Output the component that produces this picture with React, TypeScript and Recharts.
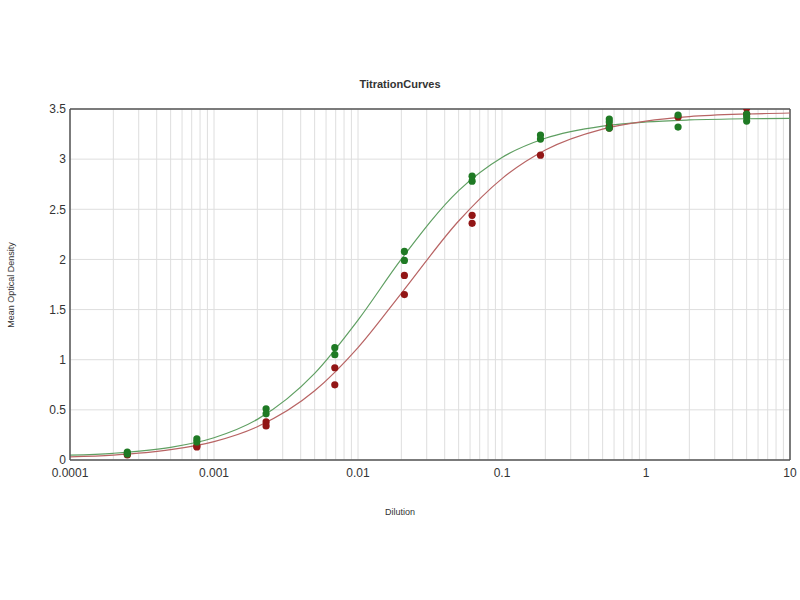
import React from "react";
import {
  ComposedChart,
  Line,
  Scatter,
  XAxis,
  YAxis,
  ZAxis,
  CartesianGrid,
  ReferenceLine,
} from "recharts";

const greenPoints = [
  { x: 0.00025, y: 0.08 }, { x: 0.00025, y: 0.06 },
  { x: 0.00076, y: 0.21 }, { x: 0.00076, y: 0.18 },
  { x: 0.0023, y: 0.51 }, { x: 0.0023, y: 0.46 },
  { x: 0.0069, y: 1.12 }, { x: 0.0069, y: 1.05 },
  { x: 0.021, y: 2.08 }, { x: 0.021, y: 1.99 },
  { x: 0.062, y: 2.83 }, { x: 0.062, y: 2.78 },
  { x: 0.185, y: 3.24 }, { x: 0.185, y: 3.2 },
  { x: 0.556, y: 3.4 }, { x: 0.556, y: 3.37 }, { x: 0.556, y: 3.31 },
  { x: 1.67, y: 3.44 }, { x: 1.67, y: 3.32 },
  { x: 5, y: 3.45 }, { x: 5, y: 3.42 }, { x: 5, y: 3.38 },
];

const redPoints = [
  { x: 0.00025, y: 0.05 }, { x: 0.00025, y: 0.06 },
  { x: 0.00076, y: 0.14 }, { x: 0.00076, y: 0.13 },
  { x: 0.0023, y: 0.38 }, { x: 0.0023, y: 0.34 },
  { x: 0.0069, y: 0.92 }, { x: 0.0069, y: 0.75 },
  { x: 0.021, y: 1.84 }, { x: 0.021, y: 1.65 },
  { x: 0.062, y: 2.44 }, { x: 0.062, y: 2.36 },
  { x: 0.185, y: 3.04 },
  { x: 0.556, y: 3.33 }, { x: 0.556, y: 3.31 },
  { x: 1.67, y: 3.42 },
  { x: 5, y: 3.51 }, { x: 5, y: 3.45 },
];

// fitted curves, sampled at 1-2-5 steps per decade
const greenCurve = [
  { x: 0.0001, y: 0.048 }, { x: 0.0002, y: 0.067 }, { x: 0.0005, y: 0.126 },
  { x: 0.001, y: 0.222 }, { x: 0.002, y: 0.405 }, { x: 0.005, y: 0.864 },
  { x: 0.01, y: 1.395 }, { x: 0.02, y: 2.003 }, { x: 0.05, y: 2.686 },
  { x: 0.1, y: 3.017 }, { x: 0.2, y: 3.208 }, { x: 0.5, y: 3.33 },
  { x: 1, y: 3.371 }, { x: 2, y: 3.391 }, { x: 5, y: 3.403 }, { x: 10, y: 3.406 },
];

const redCurve = [
  { x: 0.0001, y: 0.031 }, { x: 0.0002, y: 0.049 }, { x: 0.0005, y: 0.103 },
  { x: 0.001, y: 0.184 }, { x: 0.002, y: 0.332 }, { x: 0.005, y: 0.69 },
  { x: 0.01, y: 1.121 }, { x: 0.02, y: 1.662 }, { x: 0.05, y: 2.383 },
  { x: 0.1, y: 2.806 }, { x: 0.2, y: 3.091 }, { x: 0.5, y: 3.3 },
  { x: 1, y: 3.38 }, { x: 2, y: 3.424 }, { x: 5, y: 3.45 }, { x: 10, y: 3.46 },
];

const decadeTicks = [0.0001, 0.001, 0.01, 0.1, 1, 10];
const xTicks = [
  0.0001, 0.0002, 0.0003, 0.0004, 0.0005, 0.0006, 0.0007, 0.0008, 0.0009,
  0.001, 0.002, 0.003, 0.004, 0.005, 0.006, 0.007, 0.008, 0.009,
  0.01, 0.02, 0.03, 0.04, 0.05, 0.06, 0.07, 0.08, 0.09,
  0.1, 0.2, 0.3, 0.4, 0.5, 0.6, 0.7, 0.8, 0.9,
  1, 2, 3, 4, 5, 6, 7, 8, 9, 10,
];
const yTicks = [0, 0.5, 1, 1.5, 2, 2.5, 3, 3.5];

const GREEN_DOT = "#1f7a24";
const RED_DOT = "#921616";
const GREEN_LINE = "#5f9f62";
const RED_LINE = "#b86464";
const FRAME = "#555555";
const FONT = "'Liberation Sans', Arial, sans-serif";

const Dot = (color: string) => (props: any) => {
  const { cx, cy } = props;
  if (cx == null || cy == null) return null;
  return <circle cx={cx} cy={cy} r={3.6} fill={color} />;
};

export default function App() {
  return (
    <div
      style={{
        position: "absolute",
        left: 0,
        top: 0,
        width: 800,
        height: 600,
        background: "#fff",
        fontFamily: FONT,
      }}
    >
      <div
        style={{
          position: "absolute",
          top: 78,
          left: 0,
          width: 800,
          textAlign: "center",
          fontSize: 11,
          fontWeight: "bold",
          color: "#333",
        }}
      >
        TitrationCurves
      </div>
      <div
        style={{
          position: "absolute",
          left: 11,
          top: 285,
          transform: "translate(-50%, -50%) rotate(-90deg)",
          whiteSpace: "nowrap",
          fontSize: 9,
          color: "#333",
        }}
      >
        Mean Optical Density
      </div>
      <div
        style={{
          position: "absolute",
          top: 507,
          left: 0,
          width: 800,
          textAlign: "center",
          fontSize: 9,
          color: "#333",
        }}
      >
        Dilution
      </div>

      <ComposedChart
        width={800}
        height={600}
        margin={{ top: 109, right: 10, bottom: 110, left: 0 }}
        style={{ position: "absolute", left: 0, top: 0 }}
      >
        <CartesianGrid stroke="#dedede" strokeWidth={1} />
        <XAxis
          type="number"
          dataKey="x"
          scale="log"
          domain={[0.0001, 10]}
          ticks={xTicks}
          allowDataOverflow
          interval={0}
          tickFormatter={(v: number) =>
            decadeTicks.some((d) => Math.abs(d - v) / d < 1e-6) ? String(v) : ""
          }
          tick={{ fill: "#333", fontSize: 12, fontFamily: FONT }}
          tickLine={false}
          tickSize={0}
          tickMargin={8}
          axisLine={{ stroke: FRAME, strokeWidth: 1.5 }}
          height={30}
        />
        <YAxis
          type="number"
          dataKey="y"
          domain={[0, 3.5]}
          ticks={yTicks}
          interval={0}
          allowDataOverflow
          tick={{ fill: "#333", fontSize: 12, fontFamily: FONT }}
          tickLine={false}
          tickSize={0}
          tickMargin={4}
          axisLine={{ stroke: FRAME, strokeWidth: 1.5 }}
          width={70}
        />
        <ZAxis range={[40, 40]} />
        <ReferenceLine y={3.5} stroke={FRAME} strokeWidth={1.5} />
        <ReferenceLine x={10} stroke={FRAME} strokeWidth={1.5} />
        <Line
          data={greenCurve}
          dataKey="y"
          type="monotone"
          stroke={GREEN_LINE}
          strokeWidth={1.2}
          dot={false}
          activeDot={false}
          isAnimationActive={false}
        />
        <Line
          data={redCurve}
          dataKey="y"
          type="monotone"
          stroke={RED_LINE}
          strokeWidth={1.2}
          dot={false}
          activeDot={false}
          isAnimationActive={false}
        />
        <Scatter
          data={redPoints}
          dataKey="y"
          shape={Dot(RED_DOT)}
          isAnimationActive={false}
        />
        <Scatter
          data={greenPoints}
          dataKey="y"
          shape={Dot(GREEN_DOT)}
          isAnimationActive={false}
        />
      </ComposedChart>
    </div>
  );
}
